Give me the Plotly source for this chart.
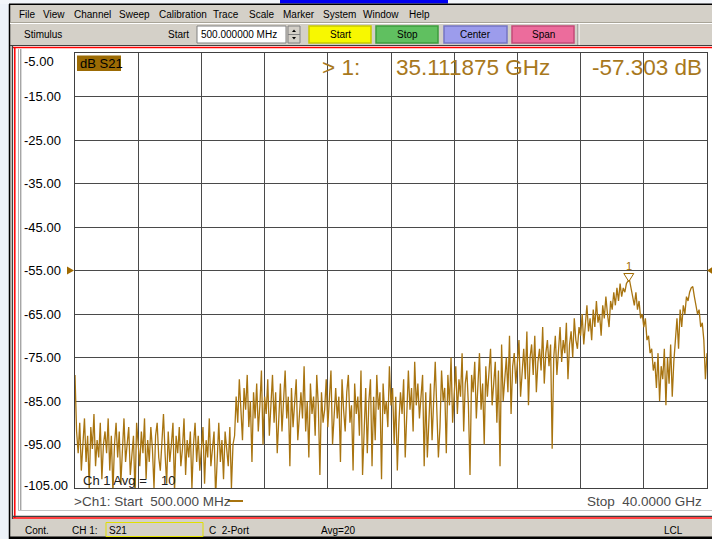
import numpy as np
import plotly.graph_objects as go

# ---------------- data ----------------
START_GHZ = 0.5
STOP_GHZ = 40.0
S21_DB = [
    -79, -92, -97, -90, -101, -94, -89, -99, -93, -105, -91, -96, -88, -100, -94, -98, -90, -103, -95, -92,
    -97, -89, -101, -93, -106, -95, -90, -98, -92, -104, -96, -89, -99, -94, -91, -102, -97, -93, -107, -90,
    -95, -100, -92, -97, -89, -103, -94, -99, -91, -96, -105, -93, -90, -98, -101, -94, -88, -97, -104, -92,
    -99, -95, -90, -106, -93, -97, -91, -100, -96, -89, -102, -94, -98, -92, -105, -95, -90, -99, -93, -101,
    -96, -91, -104, -94, -98, -89, -100, -95, -92, -107, -97, -90, -99, -94, -103, -92, -96, -100, -91, -105,
    -95, -93, -84, -90, -80, -88, -94, -82, -87, -79, -91, -85, -99, -83, -89, -81, -92, -86, -78, -95,
    -84, -88, -80, -93, -86, -79, -90, -83, -97, -87, -81, -92, -85, -78, -89, -84, -100, -82, -91, -86,
    -80, -94, -87, -83, -89, -77, -92, -85, -98, -81, -88, -84, -93, -79, -86, -102, -83, -90, -87, -80,
    -91, -85, -78, -95, -88, -82, -89, -84, -99, -80, -87, -92, -83, -79, -90, -86, -101, -81, -88, -84,
    -93, -78, -102, -90, -82, -97, -85, -80, -100, -84, -94, -79, -87, -83, -103, -81, -88, -85, -91, -77,
    -86, -82, -95, -84, -101, -90, -83, -88, -80, -98, -85, -78, -87, -82, -92, -76, -86, -81, -89, -84,
    -79, -100, -83, -98, -88, -81, -94, -84, -76, -87, -98, -91, -78, -85, -82, -97, -79, -86, -75, -90,
    -82, -77, -88, -80, -84, -74, -92, -81, -78, -86, -102, -79, -83, -76, -89, -80, -74, -87, -81, -95,
    -77, -84, -79, -73, -86, -80, -76, -90, -78, -100, -72, -85, -79, -75, -83, -70, -88, -77, -74, -81,
    -76, -71, -84, -78, -73, -80, -69, -86, -75, -72, -79, -70, -83, -76, -73, -78, -68, -81, -74, -71,
    -77, -72, -96, -75, -70, -79, -73, -68, -76, -71, -74, -67, -80, -72, -69, -75, -66, -71, -73, -68,
    -70, -65, -72, -67, -63, -69, -66, -71, -64, -68, -62, -67, -65, -70, -63, -66, -61, -65, -68, -62,
    -64, -60, -63, -59, -62, -58, -61, -59, -60, -58, -57.4, -57.3, -59, -61, -63, -60, -64, -62, -66, -65,
    -68, -66, -71, -70, -74, -73, -78, -76, -82, -74, -85, -77, -80, -73, -86, -75, -81, -72, -84, -76,
    -70, -66, -73, -64, -68, -63, -65, -61, -62, -60, -59, -58.7, -61, -63, -65, -64, -68, -67, -71, -80, -74,
]
Y_TICKS = [-5, -15, -25, -35, -45, -55, -65, -75, -85, -95, -105]
REF_LEVEL = -55
MARKER_GHZ = 35.111875
MARKER_DB = -57.303
MENU = [("File", 17), ("View", 41), ("Channel", 72), ("Sweep", 117), ("Calibration", 157),
        ("Trace", 211), ("Scale", 247), ("Marker", 281), ("System", 321), ("Window", 361), ("Help", 407)]
BUTTONS = [("Start", 309, 371, "#f8f800", "#c8c800"), ("Stop", 376, 438, "#60c060", "#3c9c3c"),
           ("Center", 444, 507, "#9c9cec", "#7474c4"), ("Span", 512, 574, "#ec6c9c", "#c44a78")]

freq = np.linspace(START_GHZ, STOP_GHZ, len(S21_DB))

# ---------------- geometry helpers ----------------
W, H = 712, 539
L, R, T, B = 75, 707, 53, 488
PW, PH = R - L, B - T
FONT = "Liberation Sans, Arial, sans-serif"
GOLD = "#a8781c"
TRACE = "#a87410"


def px(x):
    return (x - L) / PW


def py(y):
    return (B - y) / PH


shapes = []
annotations = []


def rect(x0, y0, x1, y1, fill, line=None, layer="above", lw=1):
    shapes.append(dict(type="rect", xref="paper", yref="paper", x0=px(x0), x1=px(x1), y0=py(y0), y1=py(y1),
                       fillcolor=fill, line=dict(color=line or fill, width=lw if line else 0), layer=layer))


def hline(y, x0, x1, color, w=1):
    shapes.append(dict(type="line", xref="paper", yref="paper", x0=px(x0), x1=px(x1), y0=py(y), y1=py(y),
                       line=dict(color=color, width=w)))


def vline(x, y0, y1, color, w=1):
    shapes.append(dict(type="line", xref="paper", yref="paper", x0=px(x), x1=px(x), y0=py(y0), y1=py(y1),
                       line=dict(color=color, width=w)))


def text(t, x, y, size=10, color="#000000", xanchor="left", family=FONT):
    annotations.append(dict(text=t, xref="paper", yref="paper", x=px(x), y=py(y), xanchor=xanchor,
                            yanchor="middle", showarrow=False, font=dict(size=size, color=color, family=family)))


# ---------------- window chrome ----------------
rect(0, 0, 10, 539, "#edf2f9", layer="below")
rect(0, 0, 712, 4, "#f2f5fa", layer="below")
rect(280, 0, 448, 3.6, "#0000f0")
hline(4.3, 9, 712, "#000000", 1.4)
vline(9.5, 4, 539, "#000000", 1.5)
hline(22.5, 10, 712, "#a8a498")
hline(23.5, 10, 712, "#ffffff")
rect(12, 46, 712, 519, "#ffffff", layer="below")
hline(45.5, 10, 712, "#404040", 1.2)
hline(47.5, 13, 712, "#ff0000", 1.5)
vline(12.5, 45, 519, "#404040", 1.2)
vline(14.8, 47, 518, "#ff0000", 1.5)
vline(18.5, 49, 511, "#b4b4b4")
vline(20.8, 49, 511, "#808080")
hline(510.5, 18, 712, "#c4c4c4")
hline(516.3, 12, 712, "#404040", 1.2)
hline(518.0, 13, 712, "#ff0000", 1.5)
hline(537.8, 9, 712, "#000000", 2.5)

# menu
for name, x in MENU:
    text(name, x, 14, 10)

# toolbar
text("Stimulus", 22, 34.5, 10)
text("Start", 191, 34.5, 10, xanchor="right")
rect(197, 26, 286, 43, "#ffffff", "#808080")
text("500.000000 MHz", 199, 34.5, 10)
rect(288, 26, 300, 43, "#d4d0c8", "#808080")
hline(34.5, 288, 300, "#808080")
shapes.append(dict(type="path", xref="paper", yref="paper",
                   path=f"M {px(292)} {py(32)} L {px(296)} {py(32)} L {px(294)} {py(29.5)} Z",
                   fillcolor="#000000", line=dict(width=0)))
shapes.append(dict(type="path", xref="paper", yref="paper",
                   path=f"M {px(292)} {py(37)} L {px(296)} {py(37)} L {px(294)} {py(39.5)} Z",
                   fillcolor="#000000", line=dict(width=0)))
for name, x0, x1, fill, edge in BUTTONS:
    rect(x0, 26, x1, 43, fill, edge, lw=1.5)
    text(name, (x0 + x1) / 2, 34.5, 10, xanchor="center")
vline(578, 24, 45, "#808080")
vline(579, 24, 45, "#ffffff")

# status bar
text("Cont.", 23, 530, 10)
text("CH 1:", 70, 530, 10)
rect(106, 522.5, 203, 536.5, "#d4d0c8", "#e0e000")
text("S21", 107, 530, 10)
text("C  2-Port", 207, 530, 10)
text("Avg=20", 319, 530, 10)
text("LCL", 662, 530, 10)

# ---------------- chart texts ----------------
for v in Y_TICKS:
    shift = -8 if v == Y_TICKS[0] else (3 if v == Y_TICKS[-1] else 0)
    annotations.append(dict(text=f"{v:.2f}", xref="paper", yref="y", x=px(22), y=v, yshift=shift,
                            xanchor="left", yanchor="middle", showarrow=False,
                            font=dict(size=13, color="#000000", family=FONT)))

rect(77, 55.5, 121, 71, "#9c6b04")
text("dB S21", 78, 63.5, 13, "#000000")

text("&gt; 1:", 320, 67, 22.5, GOLD)
text(f"{MARKER_GHZ:.6f} GHz", 394, 67, 22.5, GOLD)
text(f"{MARKER_DB:.3f} dB", 704, 67, 22.5, GOLD, xanchor="right")

text("Ch 1 Avg =", 81, 480, 13, "#202020")
text("10", 159, 480, 13, "#202020")

text(f"&gt;Ch1: Start  {START_GHZ*1000:.3f} MHz", 72, 501, 13.5, "#4a4a4a")
hline(501, 228, 243, TRACE, 2)
text(f"Stop  {STOP_GHZ:.4f} GHz", 704, 501, 13.5, "#4a4a4a", xanchor="right")

# reference level triangles
shapes.append(dict(type="path", xref="paper", yref="y", xanchor=0, yanchor=REF_LEVEL,
                   xsizemode="pixel", ysizemode="pixel", path="M -8 4 L -1 0 L -8 -4 Z",
                   fillcolor="#a06a00", line=dict(width=0)))
shapes.append(dict(type="path", xref="paper", yref="y", xanchor=1, yanchor=REF_LEVEL,
                   xsizemode="pixel", ysizemode="pixel", path="M 6 4 L 0 0 L 6 -4 Z",
                   fillcolor="#a06a00", line=dict(width=0)))

# marker triangle
shapes.append(dict(type="path", xref="x", yref="y", xanchor=MARKER_GHZ, yanchor=MARKER_DB,
                   xsizemode="pixel", ysizemode="pixel", path="M -5 7 L 5 7 L 0 -1 Z",
                   fillcolor="rgba(0,0,0,0)", line=dict(color="#a06a00", width=1)))
annotations.append(dict(text="1", xref="x", yref="y", x=MARKER_GHZ, y=MARKER_DB, yshift=15,
                        xanchor="center", yanchor="middle", showarrow=False,
                        font=dict(size=11, color="#a06a00", family=FONT)))

# ---------------- figure ----------------
fig = go.Figure()
fig.add_trace(go.Scatter(x=freq, y=S21_DB, mode="lines", line=dict(color=TRACE, width=1.3), hoverinfo="skip"))

fig.update_layout(
    width=W, height=H,
    margin=dict(l=L, r=W - R, t=T, b=H - B, pad=0),
    paper_bgcolor="#d4d0c8", plot_bgcolor="#ffffff",
    showlegend=False,
    font=dict(family=FONT),
    shapes=shapes, annotations=annotations,
    xaxis=dict(range=[START_GHZ, STOP_GHZ], tick0=START_GHZ, dtick=(STOP_GHZ - START_GHZ) / 10,
               showticklabels=False, ticks="", showgrid=True, gridcolor="#4a4a4a", gridwidth=1,
               zeroline=False, showline=True, linecolor="#404040", linewidth=1, mirror=True, fixedrange=True),
    yaxis=dict(range=[-105, -5], tick0=-5, dtick=10, showticklabels=False, ticks="", showgrid=True,
               gridcolor="#4a4a4a", gridwidth=1, zeroline=False, showline=True, linecolor="#404040",
               linewidth=1, mirror=True, fixedrange=True),
)

fig.write_html("out.html", config={"displayModeBar": False},
               post_script="document.body.style.margin='0';document.body.style.overflow='hidden';")
